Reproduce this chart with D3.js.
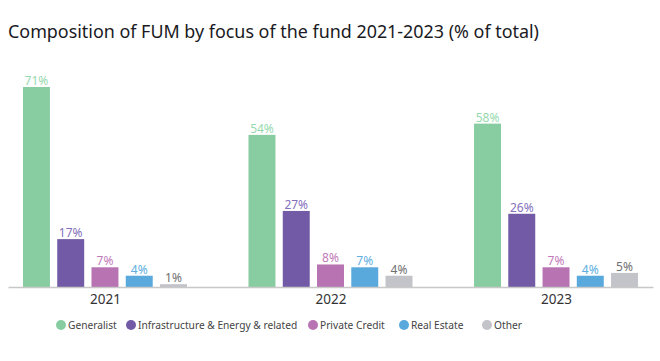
<!DOCTYPE html>
<html>
<head>
<meta charset="utf-8">
<script src="https://cdn.jsdelivr.net/npm/d3@7/dist/d3.min.js"></script>
<style>
  body { margin: 0; background: #fff; }
  svg { display: block; font-family: "Noto Sans", "DejaVu Sans", sans-serif; }
</style>
</head>
<body>
<svg id="chart" width="660" height="361"></svg>
<script>
// chart data
const years = ["2021", "2022", "2023"];
const categories = ["Generalist", "Infrastructure & Energy & related", "Private Credit", "Real Estate", "Other"];
const values = {
  "2021": [71, 17, 7, 4, 1],
  "2022": [54, 27, 8, 7, 4],
  "2023": [58, 26, 7, 4, 5]
};
const barColors = ["#88cca1", "#725aa6", "#b873b2", "#59a9dd", "#c3c3ca"];
const labelColors = ["#96d9ae", "#8470bd", "#c27ab9", "#60aee0", "#707070"];

const svg = d3.select("#chart");

svg.append("text")
  .attr("x", 8).attr("y", 38)
  .attr("font-size", 17.9)
  .attr("fill", "#1a1a24")
  .text("Composition of FUM by focus of the fund 2021-2023 (% of total)");

const x0 = d3.scalePoint().domain(years).range([8, 653]).padding(0.43);
const x1 = d3.scaleBand().domain(categories).range([-82, 82]).paddingInner(0.213);
const y = d3.scaleLinear().domain([0, 71]).range([287, 87]);

const groups = svg.selectAll("g.year")
  .data(years)
  .join("g")
  .attr("class", "year")
  .attr("transform", d => `translate(${x0(d)},0)`);

groups.selectAll("rect")
  .data(yr => values[yr].map((v, i) => ({ v, i })))
  .join("rect")
  .attr("x", d => x1(categories[d.i]))
  .attr("width", x1.bandwidth())
  .attr("y", d => y(d.v))
  .attr("height", d => y(0) - y(d.v))
  .attr("fill", d => barColors[d.i]);

groups.selectAll("text.val")
  .data(yr => values[yr].map((v, i) => ({ v, i })))
  .join("text")
  .attr("class", "val")
  .attr("x", d => x1(categories[d.i]) + x1.bandwidth() / 2)
  .attr("y", d => y(d.v) - 2)
  .attr("text-anchor", "middle")
  .attr("font-size", 12)
  .attr("fill", d => labelColors[d.i])
  .text(d => d.v + "%");

// baseline and year labels
const axis = svg.append("g").attr("transform", `translate(0,${y(0)})`)
  .call(d3.axisBottom(x0).tickSize(0).tickPadding(7));
axis.select(".domain").attr("stroke", "#c8c8c8").attr("stroke-width", 1.5);
axis.selectAll("text").attr("font-size", 13.5).attr("fill", "#333")
  .attr("font-family", "'Noto Sans', 'DejaVu Sans', sans-serif");

// legend
const legendX = [61, 131, 313, 404, 487];
const legend = svg.selectAll("g.leg")
  .data(categories)
  .join("g")
  .attr("class", "leg")
  .attr("transform", (d, i) => `translate(${legendX[i]},325)`);
legend.append("circle").attr("r", 5).attr("fill", (d, i) => barColors[i]);
legend.append("text")
  .attr("x", 7).attr("y", 4)
  .attr("font-size", 10.2)
  .attr("fill", "#444")
  .text(d => d);
</script>
</body>
</html>
